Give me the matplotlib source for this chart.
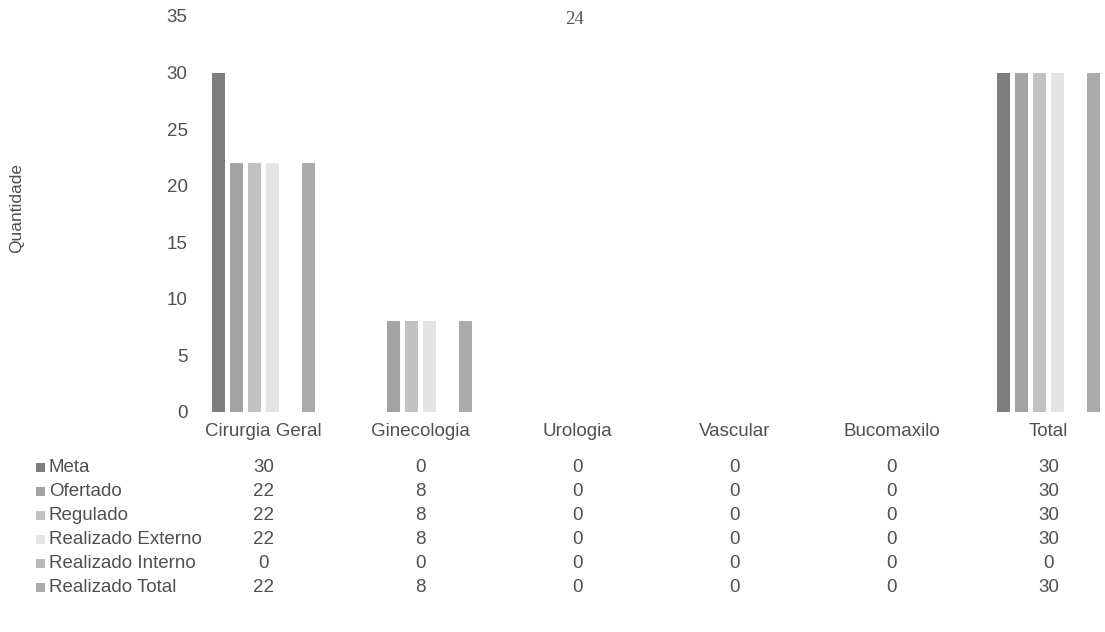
import numpy as np
import matplotlib
matplotlib.use("Agg")
import matplotlib.pyplot as plt
import matplotlib.transforms as mtrans
from matplotlib.patches import Rectangle

# data
categorias = ["Cirurgia Geral", "Ginecologia", "Urologia", "Vascular", "Bucomaxilo", "Total"]
series = ["Meta", "Ofertado", "Regulado", "Realizado Externo", "Realizado Interno", "Realizado Total"]
meta = [30, 0, 0, 0, 0, 30]
ofertado = [22, 8, 0, 0, 0, 30]
regulado = [22, 8, 0, 0, 0, 30]
real_ext = [22, 8, 0, 0, 0, 30]
real_int = [0, 0, 0, 0, 0, 0]
real_tot = [22, 8, 0, 0, 0, 30]
valores = [meta, ofertado, regulado, real_ext, real_int, real_tot]
yticks = [0, 5, 10, 15, 20, 25, 30, 35]

# style
plt.rcParams['font.family'] = ['Liberation Sans', 'DejaVu Sans']
txtc = '#505050'
cores = ['#7e7e7e', '#a3a3a3', '#c2c2c2', '#e4e4e4', '#b8b8b8', '#ababab']
FS = 13.5

W, H = 1105, 632
fig = plt.figure(figsize=(W/100, H/100), dpi=100)
ax = fig.add_axes([200/W, 220/H, (W-200)/W, 396/H])

x = np.arange(len(categorias))
step = 0.115
wd = 0.083
for j in range(len(series)):
    ax.bar(x + (j-2.5)*step, valores[j], width=wd, color=cores[j], lw=0)

ax.set_ylim(0, 35)
ax.set_xlim(-0.404, 5.36)
ax.set_yticks(yticks)
ax.set_yticklabels([str(v) for v in yticks], fontsize=FS, color=txtc)
ax.tick_params(axis='y', length=0, pad=9)
ax.set_xticks([])
for s in ax.spines.values():
    s.set_visible(False)

fig.text(17/W, 1-208/H, "Quantidade", rotation=90, ha='center', va='center', fontsize=12.5, color=txtc)
fig.text(574/W, 1-19/H, "24", ha='center', va='center', fontsize=13.5, color='#555555',
         family=['Liberation Serif', 'DejaVu Serif'])

# data table below the chart
tr = mtrans.blended_transform_factory(ax.transData, fig.transFigure)
for i, c in enumerate(categorias):
    ax.text(i, 1-431/H, c, transform=tr, ha='center', va='center', fontsize=FS, color=txtc, clip_on=False)

row0 = 467
rstep = 24
for j, s in enumerate(series):
    yy = 1-(row0 + j*rstep)/H
    fig.patches.append(Rectangle((36/W, yy-4.5/H), 9/W, 9/H, transform=fig.transFigure,
                                 facecolor=cores[j], lw=0))
    fig.text(49/W, yy, s, ha='left', va='center', fontsize=FS, color=txtc)
    for i in range(len(categorias)):
        ax.text(i, yy, str(valores[j][i]), transform=tr, ha='center', va='center',
                fontsize=FS, color=txtc, clip_on=False)

fig.savefig("out.png", dpi=100)
